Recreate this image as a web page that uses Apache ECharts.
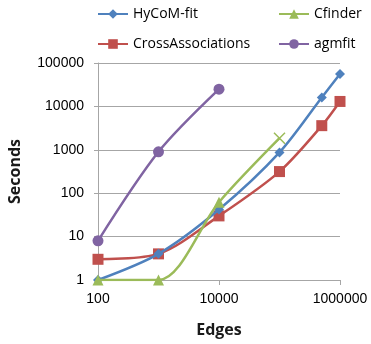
<!DOCTYPE html>
<html><head><meta charset="utf-8">
<script src="https://cdn.jsdelivr.net/npm/echarts@6/dist/echarts.min.js"></script>
<style>html,body{margin:0;padding:0;background:#fff}#c{width:371px;height:344px}</style>
</head><body><div id="c"></div>
<script>
var hycomX = [100, 1000, 10000, 100000, 500000, 1000000];
var hycomY = [1, 4, 42, 870, 16000, 56000];
var crossX = [100, 1000, 10000, 100000, 500000, 1000000];
var crossY = [3, 4, 30, 315, 3600, 13000];
var cfinderX = [100, 1000, 10000, 100000];
var cfinderY = [1, 1, 62, 1850];
var agmX = [100, 1000, 10000];
var agmY = [8, 900, 25000];
var xTicks = [100, 10000, 1000000];
var yTicks = [1, 10, 100, 1000, 10000, 100000];

function pairs(xs, ys){ return xs.map(function(x,i){ return [x, ys[i]]; }); }
var cfData = pairs(cfinderX, cfinderY);
cfData[cfData.length-1] = {value: cfData[cfData.length-1], symbol: 'path://M0,0L10,10M10,0L0,10', symbolSize: 11,
  itemStyle: {color: 'rgba(0,0,0,0)', borderColor: '#9BBB59', borderWidth: 1.5}};

function fmt(list){ return function(v){ for (var i=0;i<list.length;i++){ if (Math.abs(v-list[i]) < list[i]*1e-6) return String(list[i]); } return ''; }; }

var font = '"Liberation Sans", Arial, sans-serif';
var chart = echarts.init(document.getElementById('c'));
var lw = 2.5;
chart.setOption({
  animation: false,
  legend: [{
    data: ['HyCoM-fit', 'CrossAssociations'], orient: 'vertical', left: 92, top: 2,
    itemWidth: 30, itemHeight: 12, itemGap: 16,
    textStyle: {fontFamily: '"Open Sans", sans-serif', fontSize: 14, color: '#000'}
  },{
    data: ['Cfinder', 'agmfit'], orient: 'vertical', left: 273, top: 2,
    itemWidth: 30, itemHeight: 12, itemGap: 16,
    textStyle: {fontFamily: '"Open Sans", sans-serif', fontSize: 14, color: '#000'}
  }],
  grid: {left: 98, right: 31, top: 63, bottom: 64, containLabel: false, outerBoundsMode: 'none'},
  xAxis: {
    type: 'log', logBase: 100, min: 100, max: 1000000,
    name: 'Edges', nameLocation: 'middle', nameGap: 42,
    nameTextStyle: {fontFamily: '"Open Sans", sans-serif', fontWeight: 'bold', fontSize: 16, color: '#1a1a1a'},
    axisLine: {lineStyle: {color: '#A6A6A6'}},
    axisTick: {show: true, length: 5, lineStyle: {color: '#A6A6A6'}},
    axisLabel: {fontFamily: font, fontSize: 14, color: '#000', margin: 12, formatter: fmt(xTicks)},
    splitLine: {show: false}
  },
  yAxis: {
    type: 'log', logBase: 10, min: 1, max: 100000,
    name: 'Seconds', nameLocation: 'middle', nameGap: 75, nameRotate: 90,
    nameTextStyle: {fontFamily: '"Open Sans", sans-serif', fontWeight: 'bold', fontSize: 16, color: '#1a1a1a'},
    axisLine: {show: true, lineStyle: {color: '#A6A6A6'}},
    axisTick: {show: true, length: 4, lineStyle: {color: '#A6A6A6'}},
    axisLabel: {fontFamily: font, fontSize: 14, color: '#000', margin: 14, formatter: fmt(yTicks)},
    splitLine: {show: true, lineStyle: {color: '#A6A6A6'}}
  },
  series: [
    {name: 'HyCoM-fit', type: 'line', smooth: 0.3, data: pairs(hycomX, hycomY), symbol: 'diamond', symbolSize: 10,
     color: '#4F81BD', lineStyle: {width: lw}, z: 3},
    {name: 'CrossAssociations', type: 'line', smooth: 0.3, data: pairs(crossX, crossY), symbol: 'rect', symbolSize: 11,
     color: '#C0504D', lineStyle: {width: lw}, z: 2},
    {name: 'Cfinder', type: 'line', smooth: 0.3, data: cfData, symbol: 'triangle', symbolSize: 11,
     color: '#9BBB59', lineStyle: {width: lw}, z: 4},
    {name: 'agmfit', type: 'line', smooth: 0.3, data: pairs(agmX, agmY), symbol: 'circle', symbolSize: 11,
     color: '#8064A2', lineStyle: {width: lw}, z: 5}
  ]
});
</script></body></html>
